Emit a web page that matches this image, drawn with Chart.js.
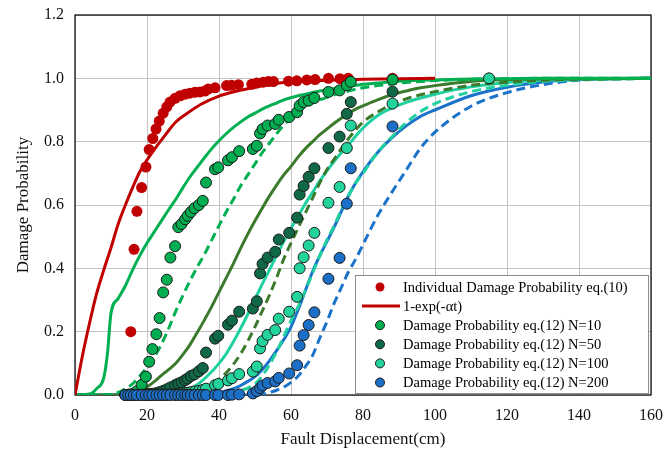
<!DOCTYPE html>
<html>
<head>
<meta charset="utf-8">
<script src="https://cdn.jsdelivr.net/npm/chart.js@4.4.1/dist/chart.umd.min.js"></script>
<style>
  html, body { margin: 0; padding: 0; background: #fff; }
  #wrap { width: 664px; height: 455px; }
</style>
</head>
<body>
<div id="wrap"><canvas id="chartDamage" width="664" height="455"></canvas></div>
<script>
// ===== DATA =====

// individual damage probability eq.(10)
const indivX = [15.5, 16.4, 17.2, 18.5, 19.7, 20.6, 21.6, 22.5, 23.4, 24.5, 25.5, 26.4, 27.8, 29.2, 30.6, 31.9, 33.3, 34.7, 36.1, 37.0,
  38.9, 42.1, 43.5, 45.4, 49.1, 50.5, 52.3, 53.7, 55.1, 59.3, 61.6, 64.4, 66.7, 70.4, 73.6, 75.9, 88.2];
const indivP = [0.20, 0.46, 0.58, 0.655, 0.72, 0.775, 0.81, 0.84, 0.865, 0.89, 0.91, 0.925, 0.937, 0.945, 0.95, 0.953, 0.956, 0.957, 0.96, 0.966,
  0.97, 0.977, 0.978, 0.98, 0.981, 0.985, 0.988, 0.99, 0.99, 0.991, 0.992, 0.995, 0.996, 1.0, 0.999, 1.0, 1.0];

// 1-exp(-at) curve
const expX = [0, 2, 4, 6, 8, 10, 12, 14, 16, 18, 20, 22, 25, 28, 31, 35, 40, 45, 50, 55, 60, 70, 80, 90, 100];
const expP = [0, 0.12, 0.225, 0.32, 0.395, 0.465, 0.54, 0.6, 0.655, 0.705, 0.742, 0.775, 0.82, 0.862, 0.888, 0.918, 0.944, 0.96, 0.972, 0.983, 0.988, 0.994, 0.997, 0.999, 1.0];

// damage probability eq.(12), same displacements for every N
const dispX = [14.0, 14.8, 15.5, 16.4, 17.2, 18.5, 19.7, 20.6, 21.5, 22.6, 23.5, 24.5, 25.5, 26.5, 27.8, 28.7, 29.6, 30.6, 31.3, 32.2,
  33.2, 34.4, 35.5, 36.4, 38.9, 39.8, 42.5, 43.6, 45.6, 49.4, 50.5, 51.4, 52.1, 53.5, 55.6, 56.6, 59.5, 61.7, 62.4, 63.5,
  64.9, 66.5, 70.4, 73.5, 75.5, 76.6, 88.2, 115.0];
const probN10 = [0, 0.001, 0.002, 0.005, 0.012, 0.032, 0.058, 0.105, 0.145, 0.192, 0.243, 0.324, 0.364, 0.434, 0.47, 0.53, 0.54, 0.555, 0.566, 0.578,
  0.59, 0.6, 0.613, 0.671, 0.713, 0.719, 0.741, 0.751, 0.77, 0.777, 0.787, 0.826, 0.84, 0.851, 0.856, 0.869, 0.878, 0.893, 0.914, 0.925,
  0.93, 0.938, 0.957, 0.962, 0.978, 0.989, 0.996, null];
const probN50 = [0, 0, 0, 0, 0, 0.001, 0.002, 0.003, 0.004, 0.006, 0.009, 0.013, 0.018, 0.024, 0.031, 0.036, 0.04, 0.047, 0.052, 0.06,
  0.065, 0.075, 0.085, 0.134, 0.178, 0.187, 0.222, 0.235, 0.263, 0.273, 0.296, 0.384, 0.414, 0.434, 0.452, 0.491, 0.512, 0.56, 0.633, 0.66,
  0.689, 0.716, 0.78, 0.816, 0.888, 0.925, 0.958, null];
const probN100 = [0, 0, 0, 0, 0, 0, 0, 0, 0, 0, 0, 0.001, 0.001, 0.002, 0.003, 0.004, 0.005, 0.006, 0.007, 0.009,
  0.011, 0.013, 0.016, 0.02, 0.031, 0.035, 0.046, 0.053, 0.066, 0.074, 0.09, 0.147, 0.17, 0.19, 0.205, 0.241, 0.263, 0.31, 0.4, 0.435,
  0.472, 0.512, 0.607, 0.657, 0.78, 0.851, 0.92, 1.0];
const probN200 = [0, 0, 0, 0, 0, 0, 0, 0, 0, 0, 0, 0, 0, 0, 0, 0, 0, 0, 0, 0,
  0, 0, 0, 0, 0, 0, 0, 0.001, 0.002, 0.005, 0.012, 0.022, 0.03, 0.038, 0.043, 0.054, 0.068, 0.094, 0.156, 0.189,
  0.221, 0.261, 0.367, 0.433, 0.604, 0.716, 0.848, null];

// fitted curves (solid) and comparison curves (dashed), read on one x grid
const curveX = [0, 4, 6, 8, 9, 10, 12, 14, 16, 18, 20, 22, 24, 26, 28, 30, 32, 34, 36, 38, 40, 42, 44, 46, 48, 50, 52, 54, 56, 58,
  60, 62, 64, 66, 68, 70, 72, 74, 76, 78, 80, 84, 88, 92, 96, 100, 110, 120, 130, 140, 160];
const solidN10 = [0, 0.003, 0.02, 0.055, 0.13, 0.258, 0.305, 0.345, 0.395, 0.44, 0.48, 0.515, 0.55, 0.585, 0.618, 0.655, 0.69, 0.72, 0.75, 0.778,
  0.803, 0.825, 0.845, 0.862, 0.878, 0.89, 0.903, 0.913, 0.922, 0.932, 0.939, 0.945, 0.95, 0.955, 0.96, 0.964, 0.968, 0.972, 0.975, 0.978,
  0.981, 0.985, 0.989, 0.992, 0.994, 0.995, 0.998, 0.999, 1, 1, 1];
const dashN10 = [0, 0, 0, 0, 0, 0.002, 0.008, 0.02, 0.035, 0.06, 0.088, 0.12, 0.16, 0.21, 0.265, 0.315, 0.362, 0.405, 0.445, 0.49,
  0.535, 0.578, 0.618, 0.66, 0.695, 0.73, 0.765, 0.795, 0.825, 0.853, 0.875, 0.895, 0.91, 0.922, 0.932, 0.94, 0.948, 0.955, 0.96, 0.966,
  0.97, 0.977, 0.982, 0.987, 0.99, 0.993, 0.997, 0.999, 1, 1, 1];
const solidN50 = [0, 0, 0, 0, 0, 0, 0.001, 0.003, 0.007, 0.013, 0.025, 0.042, 0.062, 0.08, 0.1, 0.128, 0.16, 0.198, 0.238, 0.28,
  0.325, 0.37, 0.415, 0.463, 0.508, 0.55, 0.59, 0.628, 0.663, 0.695, 0.722, 0.752, 0.778, 0.8, 0.822, 0.84, 0.858, 0.875, 0.89, 0.903,
  0.913, 0.932, 0.948, 0.96, 0.97, 0.977, 0.99, 0.996, 0.998, 0.999, 1];
const dashN50 = [0, 0, 0, 0, 0, 0, 0, 0, 0, 0, 0, 0, 0, 0, 0, 0.004, 0.008, 0.014, 0.023, 0.035,
  0.05, 0.07, 0.097, 0.13, 0.17, 0.215, 0.265, 0.315, 0.37, 0.43, 0.48, 0.528, 0.575, 0.622, 0.67, 0.712, 0.745, 0.778, 0.81, 0.838,
  0.862, 0.893, 0.918, 0.935, 0.948, 0.958, 0.978, 0.988, 0.994, 0.997, 1];
const solidN100 = [0, 0, 0, 0, 0, 0, 0, 0, 0.001, 0.002, 0.003, 0.005, 0.007, 0.009, 0.011, 0.014, 0.02, 0.033, 0.052, 0.074,
  0.1, 0.13, 0.168, 0.21, 0.255, 0.303, 0.35, 0.395, 0.44, 0.485, 0.527, 0.565, 0.605, 0.64, 0.676, 0.708, 0.738, 0.765, 0.79, 0.818,
  0.843, 0.882, 0.906, 0.924, 0.938, 0.95, 0.973, 0.987, 0.994, 0.997, 1];
const dashN100 = [0, 0, 0, 0, 0, 0, 0, 0, 0, 0, 0, 0, 0, 0, 0, 0, 0, 0, 0, 0.001,
  0.003, 0.006, 0.01, 0.015, 0.022, 0.035, 0.06, 0.095, 0.137, 0.185, 0.235, 0.28, 0.33, 0.385, 0.44, 0.49, 0.535, 0.585, 0.63, 0.67,
  0.7, 0.765, 0.815, 0.86, 0.895, 0.92, 0.958, 0.978, 0.99, 0.995, 1];
const solidN200 = [0, 0, 0, 0, 0, 0, 0, 0, 0, 0, 0, 0, 0, 0, 0, 0, 0.001, 0.002, 0.003, 0.005,
  0.008, 0.013, 0.02, 0.03, 0.043, 0.058, 0.08, 0.108, 0.14, 0.175, 0.215, 0.27, 0.33, 0.39, 0.44, 0.485, 0.53, 0.58, 0.63, 0.67,
  0.705, 0.765, 0.812, 0.85, 0.88, 0.9, 0.945, 0.972, 0.988, 0.997, 1];
const dashN200 = [0, 0, 0, 0, 0, 0, 0, 0, 0, 0, 0, 0, 0, 0, 0, 0, 0, 0, 0, 0,
  0, 0, 0, 0, 0, 0.001, 0.003, 0.008, 0.015, 0.025, 0.04, 0.06, 0.09, 0.125, 0.18, 0.232, 0.29, 0.34, 0.39, 0.43,
  0.475, 0.565, 0.64, 0.71, 0.78, 0.83, 0.912, 0.955, 0.98, 0.994, 1];

// axis ticks
const xTicks = [0, 20, 40, 60, 80, 100, 120, 140, 160];
const yTicks = [0.0, 0.2, 0.4, 0.6, 0.8, 1.0, 1.2];

// ======================================

const SERIF = "'Liberation Serif', 'Times New Roman', serif";
const RED = '#c00000';
const COLORS = {
  n10:  { dot: '#00ad50', line: '#00b050' },
  n50:  { dot: '#0f6946', line: '#3b7a2c' },
  n100: { dot: '#22d39b', line: '#1fd0a0' },
  n200: { dot: '#1c6fc6', line: '#1b73c9' }
};

const pts = (xs, ys) => xs.map((x, i) => ({ x, y: ys[i] }));

function dotSet(label, ys, col, order) {
  return {
    label, legendText: label, legendType: 'dot',
    data: pts(dispX, ys),
    showLine: false,
    pointRadius: 5.5,
    pointBackgroundColor: col.dot,
    pointBorderColor: '#1a1a1a',
    pointBorderWidth: 1,
    backgroundColor: col.dot,
    borderColor: '#1a1a1a',
    clip: false,
    order
  };
}

function curveSet(label, ys, color, dashed, order) {
  return {
    label,
    data: pts(curveX, ys),
    showLine: true,
    pointRadius: 0,
    borderColor: color,
    borderWidth: 3,
    borderDash: dashed ? [9, 5] : [],
    cubicInterpolationMode: 'monotone',
    order
  };
}

// frame round the plot area
const frame = {
  id: 'frame',
  beforeDatasetsDraw(chart) {
    const { ctx, chartArea: a } = chart;
    ctx.save();
    ctx.strokeStyle = '#000';
    ctx.lineWidth = 1.2;
    ctx.strokeRect(a.left, a.top, a.right - a.left, a.bottom - a.top);
    ctx.restore();
  }
};

// legend inside the plot, bottom right
const legendBox = {
  id: 'legendBox',
  afterDatasetsDraw(chart) {
    const { ctx, chartArea: a } = chart;
    const items = chart.data.datasets.filter(d => d.legendText);
    const left = a.right - 296, top = a.bottom - 120;
    ctx.save();
    ctx.fillStyle = '#fff';
    ctx.fillRect(left, top, 293, 118);
    ctx.strokeStyle = '#8c8c8c';
    ctx.lineWidth = 1;
    ctx.strokeRect(left + 0.5, top + 0.5, 293, 118);
    ctx.font = '14.5px ' + SERIF;
    ctx.textBaseline = 'middle';
    items.forEach((d, i) => {
      const cy = top + 12 + i * 19.1;
      if (d.legendType === 'line') {
        ctx.strokeStyle = d.borderColor;
        ctx.lineWidth = 3;
        ctx.beginPath();
        ctx.moveTo(left + 7, cy);
        ctx.lineTo(left + 45, cy);
        ctx.stroke();
      } else {
        ctx.beginPath();
        ctx.arc(left + 25, cy, 4.5, 0, Math.PI * 2);
        ctx.fillStyle = d.pointBackgroundColor;
        ctx.fill();
        if (d.pointBorderWidth) {
          ctx.strokeStyle = '#1a1a1a';
          ctx.lineWidth = 1;
          ctx.stroke();
        }
      }
      ctx.fillStyle = '#000';
      ctx.fillText(d.legendText, left + 48, cy + 1);
    });
    ctx.restore();
  }
};

const datasets = [
  {
    label: 'Individual Damage Probability eq.(10)',
    legendText: 'Individual Damage Probability eq.(10)', legendType: 'dot',
    data: pts(indivX, indivP),
    showLine: false,
    pointRadius: 5.5,
    pointBackgroundColor: RED,
    pointBorderColor: RED,
    pointBorderWidth: 0,
    backgroundColor: RED,
    clip: false,
    order: 4
  },
  {
    label: '1-exp(-αt)',
    legendText: '1-exp(-αt)', legendType: 'line',
    data: pts(expX, expP),
    showLine: true,
    pointRadius: 0,
    borderColor: RED,
    borderWidth: 3,
    cubicInterpolationMode: 'monotone',
    order: 5
  },
  dotSet('Damage Probability eq.(12) N=10', probN10, COLORS.n10, 3),
  dotSet('Damage Probability eq.(12) N=50', probN50, COLORS.n50, 2),
  dotSet('Damage Probability eq.(12) N=100', probN100, COLORS.n100, 1),
  dotSet('Damage Probability eq.(12) N=200', probN200, COLORS.n200, 0),
  curveSet('N=10 curve', solidN10, COLORS.n10.line, false, 6),
  curveSet('N=10 dashed', dashN10, COLORS.n10.line, true, 7),
  curveSet('N=50 curve', solidN50, COLORS.n50.line, false, 8),
  curveSet('N=50 dashed', dashN50, COLORS.n50.line, true, 9),
  curveSet('N=100 curve', solidN100, COLORS.n100.line, false, 10),
  curveSet('N=100 dashed', dashN100, COLORS.n100.line, true, 11),
  curveSet('N=200 curve', solidN200, COLORS.n200.line, false, 12),
  curveSet('N=200 dashed', dashN200, COLORS.n200.line, true, 13)
];

new Chart(document.getElementById('chartDamage').getContext('2d'), {
  type: 'scatter',
  data: { datasets },
  plugins: [frame, legendBox],
  options: {
    responsive: false,
    animation: false,
    events: [],
    layout: { padding: { left: 0, right: 13, top: 15, bottom: 0 } },
    plugins: { legend: { display: false }, tooltip: { enabled: false } },
    scales: {
      x: {
        type: 'linear',
        min: 0, max: 160,
        afterBuildTicks: s => { s.ticks = xTicks.map(v => ({ value: v })); },
        afterFit: s => { s.height = 60; s.paddingLeft = 0; s.paddingRight = 0; },
        grid: { color: '#c4c4c4', lineWidth: 1, drawTicks: false },
        border: { display: false },
        ticks: { padding: 11, color: '#111', font: { family: SERIF, size: 16 } },
        title: {
          display: true, text: 'Fault Displacement(cm)', color: '#111',
          font: { family: SERIF, size: 17 }, padding: { top: 0, bottom: 5 }
        }
      },
      y: {
        type: 'linear',
        min: 0, max: 1.2,
        afterBuildTicks: s => { s.ticks = yTicks.map(v => ({ value: v })); },
        afterFit: s => { s.width = 75; s.paddingTop = 0; s.paddingBottom = 0; },
        grid: { color: '#c4c4c4', lineWidth: 1, drawTicks: false },
        border: { display: false },
        ticks: {
          padding: 11, color: '#111', font: { family: SERIF, size: 16 },
          callback: v => Number(v).toFixed(1)
        },
        title: {
          display: true, text: 'Damage Probability', color: '#111',
          font: { family: SERIF, size: 17 }, padding: { top: 13, bottom: 0 }
        }
      }
    }
  }
});
</script>
</body>
</html>
